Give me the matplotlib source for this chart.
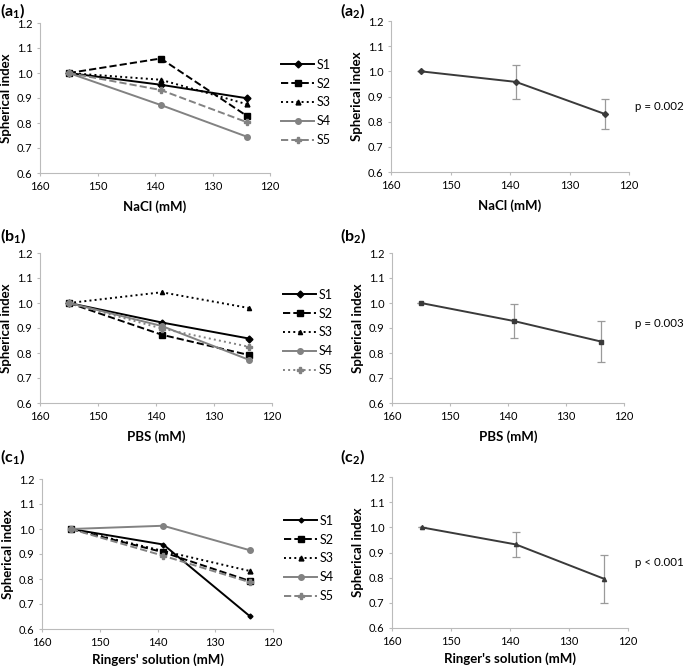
#!/usr/bin/env python3
"""Spherical index vs. osmolarity: individual samples (left) and mean +/- SD (right)."""

import matplotlib.pyplot as plt

plt.rcParams['font.family'] = ['Lato', 'DejaVu Sans']
plt.rcParams['mathtext.fontset'] = 'custom'
plt.rcParams['mathtext.bf'] = 'Lato:bold'

conc = [155, 139, 124]
samples = ['S1', 'S2', 'S3', 'S4', 'S5']

# individual samples
nacl_s = [[1.0, 0.953, 0.899],
          [1.0, 1.058, 0.828],
          [1.0, 0.973, 0.875],
          [1.0, 0.872, 0.745],
          [1.0, 0.932, 0.803]]
pbs_s = [[1.0, 0.922, 0.858],
         [1.0, 0.873, 0.792],
         [1.0, 1.043, 0.980],
         [1.0, 0.908, 0.773],
         [1.0, 0.898, 0.825]]
ringer_s = [[1.0, 0.938, 0.651],
            [1.0, 0.907, 0.792],
            [1.0, 0.912, 0.832],
            [1.0, 1.013, 0.915],
            [1.0, 0.893, 0.787]]

# means and SD
nacl_mean = [1.0, 0.958, 0.830]
nacl_sd = [0.0, 0.068, 0.060]
pbs_mean = [1.0, 0.928, 0.846]
pbs_sd = [0.0, 0.067, 0.082]
ringer_mean = [1.0, 0.932, 0.795]
ringer_sd = [0.0, 0.048, 0.096]

p_texts = ['p = 0.002', 'p = 0.003', 'p < 0.001']
xlabels_left = ['NaCl (mM)', 'PBS (mM)', "Ringers' solution (mM)"]
xlabels_right = ['NaCl (mM)', 'PBS (mM)', "Ringer's solution (mM)"]

BLACK = '#000000'
GRAY = '#828282'
# (color, linestyle, marker, markersize) per sample, per panel
styles_a = [(BLACK, '-', 'D', 3.5), (BLACK, '--', 's', 4), (BLACK, ':', '^', 3.5),
            (GRAY, '-', 'o', 4), (GRAY, '--', 'P', 4)]
styles_b = [(BLACK, '-', 'D', 3.5), (BLACK, '--', 's', 4), (BLACK, ':', '^', 3),
            (GRAY, '-', 'o', 4), (GRAY, ':', 'P', 4)]
styles_c = [(BLACK, '-', 'D', 2.5), (BLACK, '--', 's', 4), (BLACK, ':', '^', 3.5),
            (GRAY, '-', 'o', 4), (GRAY, '--', 'P', 4)]

W, H = 685, 667
fig = plt.figure(figsize=(W / 100, H / 100), dpi=100)


def add_ax(x0, x1, ytop, ybot):
    return fig.add_axes([x0 / W, 1 - ybot / H, (x1 - x0) / W, (ybot - ytop) / H])


def style_axis(ax, xlabel, xpad):
    ax.set_xlim(160, 120)
    ax.set_ylim(0.6, 1.2)
    ax.set_xticks([160, 150, 140, 130, 120])
    ax.set_yticks([0.6, 0.7, 0.8, 0.9, 1.0, 1.1, 1.2])
    ax.set_yticklabels([f'{v:.1f}' for v in ax.get_yticks()])
    for s in ['top', 'right']:
        ax.spines[s].set_visible(False)
    for s in ['left', 'bottom']:
        ax.spines[s].set_color('#bbbbbb')
        ax.spines[s].set_linewidth(0.8)
    ax.tick_params(axis='both', labelsize=8, length=2.5, color='#bbbbbb', width=0.8, pad=3)
    ax.set_xlabel(xlabel, fontsize=9.5, fontweight='bold', labelpad=xpad)
    ax.set_ylabel('Spherical index', fontsize=9.5, fontweight='bold', labelpad=3)


left_boxes = [(40, 270, 23, 173), (40, 272, 253, 403), (42, 273, 479, 629)]
right_boxes = [(391, 629, 21, 172), (392, 624, 253, 403), (392, 628, 477, 628)]
tag_y = [11, 236, 457]
p_y = [107, 323, 562]
x_pads = [6, 6, 4]
left_data = [nacl_s, pbs_s, ringer_s]
left_styles = [styles_a, styles_b, styles_c]
right_mean = [nacl_mean, pbs_mean, ringer_mean]
right_sd = [nacl_sd, pbs_sd, ringer_sd]
right_markers = ['D', 's', '^']
letters = ['a', 'b', 'c']

for i in range(3):
    ax = add_ax(*left_boxes[i])
    for name, vals, (c, ls, m, ms) in zip(samples, left_data[i], left_styles[i]):
        ax.plot(conc, vals, color=c, linestyle=ls, marker=m, markersize=ms,
                linewidth=1.4, label=name)
    style_axis(ax, xlabels_left[i], x_pads[i])
    ax.legend(loc='center left', bbox_to_anchor=(1.0, 0.47), frameon=False,
              fontsize=9, handlelength=2.6, labelspacing=0.55, handletextpad=0.2)
    fig.text(0, 1 - tag_y[i] / H, f'({letters[i]}$_\\mathbf{{1}}$)',
             fontsize=11.5, fontweight='bold', va='center', ha='left')

    ax2 = add_ax(*right_boxes[i])
    ax2.errorbar(conc, right_mean[i], yerr=right_sd[i], color='#3a3a3a', linewidth=1.4,
                 marker=right_markers[i], markersize=3, ecolor='#9a9a9a',
                 elinewidth=0.9, capsize=3, capthick=0.9)
    style_axis(ax2, xlabels_right[i], x_pads[i])
    fig.text(635 / W, 1 - p_y[i] / H, p_texts[i], fontsize=8.3, va='center', ha='left')
    fig.text(340 / W, 1 - tag_y[i] / H, f'({letters[i]}$_\\mathbf{{2}}$)',
             fontsize=11.5, fontweight='bold', va='center', ha='left')

fig.savefig('out.png', dpi=100)
